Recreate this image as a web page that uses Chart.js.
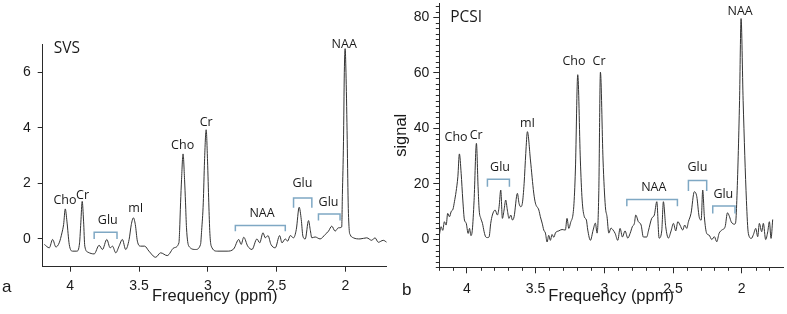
<!DOCTYPE html>
<html><head><meta charset="utf-8">
<script src="https://cdn.jsdelivr.net/npm/chart.js@4.4.1/dist/chart.umd.min.js"></script>
<style>
html,body{margin:0;padding:0;background:#fff;}
#wrap{position:relative;width:787px;height:314px;overflow:hidden;background:#fff;}
#c1{position:absolute;left:0;top:0;}
#c2{position:absolute;left:390px;top:0;}
</style></head><body>
<div id="wrap"><canvas id="c1" width="390" height="314"></canvas><canvas id="c2" width="397" height="314"></canvas></div>
<script>
// ---------- SVS panel (a) ----------
const svsPpm = [4.188,4.152,4.128,4.104,4.080,4.060,4.048,4.036,4.024,4.007,3.983,3.952,3.932,3.923,3.913,3.903,3.894,3.870,3.826,3.790,3.766,3.734,3.710,3.693,3.669,3.645,3.621,3.597,3.572,3.556,3.541,3.527,3.512,3.488,3.459,3.428,3.379,3.343,3.295,3.246,3.210,3.205,3.198,3.191,3.180,3.169,3.162,3.155,3.138,3.089,3.053,3.045,3.033,3.024,3.012,3.002,2.993,2.985,2.975,2.932,2.860,2.812,2.775,2.758,2.739,2.710,2.679,2.643,2.623,2.599,2.582,2.563,2.541,2.510,2.478,2.461,2.437,2.420,2.401,2.377,2.357,2.336,2.321,2.309,2.292,2.268,2.256,2.244,2.220,2.184,2.147,2.123,2.099,2.075,2.051,2.027,2.022,2.014,2.008,2.002,1.996,1.988,1.980,1.972,1.966,1.942,1.894,1.845,1.809,1.785,1.761,1.725,1.700];
const svsSignal = [-0.20,-0.32,-0.02,-0.29,-0.14,0.22,0.52,1.08,0.64,-0.20,-0.44,-0.44,-0.14,0.58,1.35,0.64,-0.26,-0.48,-0.54,-0.23,-0.38,-0.02,-0.32,-0.26,-0.50,-0.26,-0.02,-0.38,-0.02,0.52,0.76,0.52,-0.08,-0.26,-0.26,-0.44,-0.66,-0.50,-0.60,-0.32,-0.14,0.30,1.30,2.13,3.06,2.13,1.30,0.40,-0.26,-0.38,-0.20,0.30,1.30,2.80,3.93,2.80,1.30,0.20,-0.26,-0.44,-0.44,-0.36,-0.02,-0.20,0.06,-0.26,-0.38,0.00,-0.14,0.22,0.04,0.12,-0.20,-0.32,0.12,-0.14,0.00,-0.08,0.12,0.04,0.34,1.14,0.70,0.10,0.00,0.66,0.34,0.04,0.07,0.00,0.16,0.28,0.46,0.28,0.40,0.43,1.60,3.50,6.00,6.85,6.00,3.90,1.30,0.30,0.16,0.04,0.00,0.04,-0.05,0.04,-0.12,-0.05,-0.12];
const svsXTicks = [4, 3.5, 3, 2.5, 2];
const svsXTickLabels = ['4', '3.5', '3', '2.5', '2'];
const svsYTicks = [0, 2, 4, 6];
const svsYTickLabels = ['0', '2', '4', '6'];
const svsLabelText = ['Cho','Cr','Glu','mI','Cho','Cr','NAA','Glu','Glu','NAA'];
const svsLabelPpm  = [4.038,3.910,3.727,3.524,3.183,3.012,2.606,2.312,2.123,2.009];
const svsLabelVal  = [1.39,1.58,0.65,1.09,3.38,4.19,0.91,1.98,1.33,7.01];
const svsBracketFrom = [3.826,2.800,2.377,2.196];
const svsBracketTo   = [3.660,2.437,2.244,2.039];
const svsBracketTop  = [0.24,0.48,1.47,0.90];
const svsBracketBase = [0.00,0.28,1.12,0.66];

// ---------- PCSI panel (b) ----------
const pcsiPpm = [4.200,4.187,4.175,4.163,4.150,4.139,4.126,4.114,4.100,4.090,4.078,4.065,4.054,4.041,4.029,4.017,4.005,3.990,3.980,3.970,3.960,3.947,3.930,3.918,3.910,3.898,3.886,3.874,3.862,3.850,3.838,3.826,3.814,3.794,3.777,3.765,3.753,3.741,3.729,3.717,3.705,3.693,3.680,3.668,3.656,3.632,3.620,3.608,3.596,3.583,3.571,3.559,3.537,3.513,3.501,3.476,3.465,3.452,3.440,3.428,3.416,3.404,3.392,3.380,3.367,3.355,3.331,3.307,3.283,3.271,3.258,3.246,3.222,3.210,3.193,3.174,3.161,3.145,3.130,3.120,3.101,3.081,3.065,3.052,3.040,3.028,3.009,2.992,2.980,2.967,2.951,2.936,2.921,2.902,2.885,2.868,2.849,2.829,2.812,2.796,2.781,2.771,2.752,2.732,2.716,2.691,2.679,2.655,2.636,2.618,2.601,2.582,2.570,2.553,2.534,2.514,2.497,2.480,2.465,2.449,2.430,2.415,2.400,2.388,2.369,2.345,2.327,2.310,2.295,2.284,2.272,2.255,2.238,2.218,2.199,2.182,2.165,2.145,2.121,2.104,2.089,2.077,2.053,2.045,2.036,2.016,2.005,1.990,1.966,1.952,1.930,1.915,1.898,1.884,1.872,1.855,1.843,1.826,1.811,1.799,1.787,1.775];
const pcsiSignal = [1.5,4.6,3.3,6.4,5.2,9.4,8.2,10.0,11.0,13.6,17.2,22.6,30.8,23.8,14.2,7.0,6.0,2.2,4.0,1.4,3.3,14.0,34.6,19.0,10.6,7.6,5.8,2.8,0.9,0.7,0.9,5.8,8.8,10.6,8.8,11.8,17.8,7.6,10.6,14.2,10.6,7.6,8.8,7.0,8.2,16.6,13.0,11.8,13.0,20.2,31.0,38.8,28.6,16.7,13.1,10.6,8.2,5.9,3.4,2.3,-0.9,1.5,-0.3,1.8,0.8,2.4,3.1,3.6,3.4,7.6,4.0,5.9,11.8,25.0,59.3,28.6,14.2,8.2,7.0,3.4,-0.3,3.4,5.9,2.3,16.7,60.2,28.6,11.8,8.2,2.3,4.1,3.4,2.2,-0.3,4.0,0.9,3.1,0.5,2.2,4.6,5.8,8.8,6.4,5.2,0.9,0.9,3.1,7.6,8.8,13.6,0.5,3.1,13.6,4.6,0.5,3.1,5.8,3.1,6.4,5.2,3.4,5.2,4.0,6.4,9.4,17.2,15.4,8.2,7.0,17.8,8.2,2.2,1.6,0.0,1.0,-0.8,2.2,3.4,4.6,9.6,8.2,6.4,5.5,6.0,14.0,50.0,79.5,50.0,14.0,2.2,0.4,1.8,4.0,1.0,5.8,2.8,5.8,0.0,2.8,6.4,0.4,7.2];
const pcsiXTicks = [4, 3.5, 3, 2.5, 2];
const pcsiXTickLabels = ['4', '3.5', '3', '2.5', '2'];
const pcsiXMinor = [4.2,4.1,3.9,3.8,3.7,3.6,3.4,3.3,3.2,3.1,2.9,2.8,2.7,2.6,2.4,2.3,2.2,2.1,1.9,1.8];
const pcsiYTicks = [0, 20, 40, 60, 80];
const pcsiYTickLabels = ['0', '20', '40', '60', '80'];
const pcsiYMinor = [-10,-8,-6,-4,-2,2,4,6,8,10,12,14,16,18,22,24,26,28,30,32,34,36,38,42,44,46,48,50,52,54,56,58,62,64,66,68,70,72,74,76,78,82,84];
const pcsiLabelText = ['Cho','Cr','mI','Cho','Cr','NAA','Glu','NAA','Glu','Glu'];
const pcsiLabelPpm  = [4.078,3.932,3.559,3.220,3.038,2.012,3.758,2.640,2.323,2.134];
const pcsiLabelVal  = [36.7,37.6,41.9,64.1,63.9,82.1,25.8,18.6,25.8,16.2];
const pcsiBracketFrom = [3.850,2.836,2.388,2.211];
const pcsiBracketTo   = [3.690,2.468,2.255,2.049];
const pcsiBracketTop  = [21.7,14.4,21.2,12.1];
const pcsiBracketBase = [19.0,12.0,17.5,9.4];

const AXIS = '#2a2a2a';
const TICKFONT = {family: '"Liberation Sans", Arial, sans-serif', size: 14};
const TITLEFONT = {family: '"Liberation Sans", Arial, sans-serif', size: 16.5};

const annotPlugin = {
  id: 'annot',
  afterDatasetsDraw(chart, args, o) {
    const {ctx, scales: {x, y}, chartArea} = chart;
    ctx.save();
    // brackets
    ctx.strokeStyle = '#7fa8c4';
    ctx.lineWidth = 1.5;
    o.bFrom.forEach((f, i) => {
      const x1 = x.getPixelForValue(f), x2 = x.getPixelForValue(o.bTo[i]);
      const yt = y.getPixelForValue(o.bTop[i]), yb = y.getPixelForValue(o.bBase[i]);
      ctx.beginPath();
      ctx.moveTo(x1, yb); ctx.lineTo(x1, yt); ctx.lineTo(x2, yt); ctx.lineTo(x2, yb);
      ctx.stroke();
    });
    // peak labels
    ctx.fillStyle = '#1a1a1a';
    ctx.font = '12.5px "Open Sans", sans-serif';
    ctx.textAlign = 'center';
    ctx.textBaseline = 'middle';
    o.text.forEach((t, i) => {
      ctx.fillText(t, x.getPixelForValue(o.ppm[i]), y.getPixelForValue(o.val[i]));
    });
    // panel title
    ctx.font = '15.5px "Open Sans", sans-serif';
    ctx.textAlign = 'left';
    ctx.fillText(o.title, x.getPixelForValue(o.titlePpm), y.getPixelForValue(o.titleVal));
    // panel letter
    ctx.font = '17px "Liberation Sans", Arial, sans-serif';
    ctx.fillText(o.letter, o.letterX, o.letterY);
    // minor ticks
    ctx.strokeStyle = AXIS;
    ctx.lineWidth = 1;
    (o.xMinor || []).forEach(v => {
      const px = Math.round(x.getPixelForValue(v)) + 0.5;
      ctx.beginPath(); ctx.moveTo(px, chartArea.bottom); ctx.lineTo(px, chartArea.bottom + 3.5); ctx.stroke();
    });
    (o.yMinor || []).forEach(v => {
      const py = Math.round(y.getPixelForValue(v)) + 0.5;
      ctx.beginPath(); ctx.moveTo(chartArea.left, py); ctx.lineTo(chartArea.left - 3.5, py); ctx.stroke();
    });
    ctx.restore();
  }
};

function makeChart(canvas, p) {
  return new Chart(canvas, {
    type: 'line',
    data: {datasets: [{
      data: p.ppm.map((v, i) => ({x: v, y: p.sig[i]})),
      borderColor: '#333', borderWidth: 1, pointRadius: 0,
      cubicInterpolationMode: 'monotone', fill: false
    }]},
    options: {
      responsive: false, animation: false, devicePixelRatio: 1,
      layout: {padding: p.pad},
      plugins: {legend: {display: false}, tooltip: {enabled: false}, annot: p.annot},
      scales: {
        x: {
          type: 'linear', reverse: true, min: p.xMin, max: p.xMax,
          afterBuildTicks: s => { s.ticks = p.xTicks.map(v => ({value: v})); },
          afterFit: s => { s.height = p.xH; s.paddingLeft = 0; s.paddingRight = 0; },
          ticks: {callback: v => { const k = p.xTicks.indexOf(v); return k < 0 ? '' : p.xLabels[k]; },
                  font: TICKFONT, color: '#1a1a1a', padding: p.xPad, maxRotation: 0, autoSkip: false},
          grid: {drawOnChartArea: false, drawTicks: true, tickLength: p.tickLen, color: AXIS},
          border: {display: true, color: AXIS, width: 1},
          title: {display: true, text: 'Frequency (ppm)', font: TITLEFONT, color: '#1a1a1a', padding: {top: 0, bottom: 8}}
        },
        y: {
          type: 'linear', min: p.yMin, max: p.yMax,
          afterBuildTicks: s => { s.ticks = p.yTicks.map(v => ({value: v})); },
          afterFit: s => { s.width = p.yW; s.paddingTop = 0; s.paddingBottom = 0; },
          ticks: {callback: v => { const k = p.yTicks.indexOf(v); return k < 0 ? '' : p.yLabels[k]; },
                  font: TICKFONT, color: '#1a1a1a', padding: p.yPad},
          grid: {drawOnChartArea: false, drawTicks: true, tickLength: p.tickLen, color: AXIS},
          border: {display: true, color: AXIS, width: 1},
          title: p.yTitle ? {display: true, text: p.yTitle, font: TITLEFONT, color: '#1a1a1a', padding: {top: 2, bottom: 0}} : {display: false}
        }
      }
    },
    plugins: [annotPlugin]
  });
}

makeChart(document.getElementById('c1'), {
  ppm: svsPpm, sig: svsSignal,
  pad: {top: 44.5, right: 3.3, bottom: 0, left: 0},
  xMin: 1.7, xMax: 4.2, yMin: -1, yMax: 7,
  xTicks: svsXTicks, xLabels: svsXTickLabels, yTicks: svsYTicks, yLabels: svsYTickLabels,
  xH: 47.3, yW: 42.7, xPad: 6, yPad: 7, tickLen: 5,
  annot: {text: svsLabelText, ppm: svsLabelPpm, val: svsLabelVal,
          bFrom: svsBracketFrom, bTo: svsBracketTo, bTop: svsBracketTop, bBase: svsBracketBase,
          title: 'SVS', titlePpm: 4.12, titleVal: 6.87, letter: 'a', letterX: 2, letterY: 287}
});

makeChart(document.getElementById('c2'), {
  ppm: pcsiPpm, sig: pcsiSignal,
  pad: {top: 3.3, right: 4, bottom: 0, left: 0},
  xMin: 1.7, xMax: 4.2, yMin: -10, yMax: 85,
  xTicks: pcsiXTicks, xLabels: pcsiXTickLabels, yTicks: pcsiYTicks, yLabels: pcsiYTickLabels,
  xH: 46.7, yW: 49.3, xPad: 7, yPad: 4, tickLen: 6, yTitle: 'signal',
  annot: {text: pcsiLabelText, ppm: pcsiLabelPpm, val: pcsiLabelVal,
          bFrom: pcsiBracketFrom, bTo: pcsiBracketTo, bTop: pcsiBracketTop, bBase: pcsiBracketBase,
          title: 'PCSI', titlePpm: 4.121, titleVal: 79.8, letter: 'b', letterX: 12, letterY: 290,
          xMinor: pcsiXMinor, yMinor: pcsiYMinor}
});
</script>
</body></html>
